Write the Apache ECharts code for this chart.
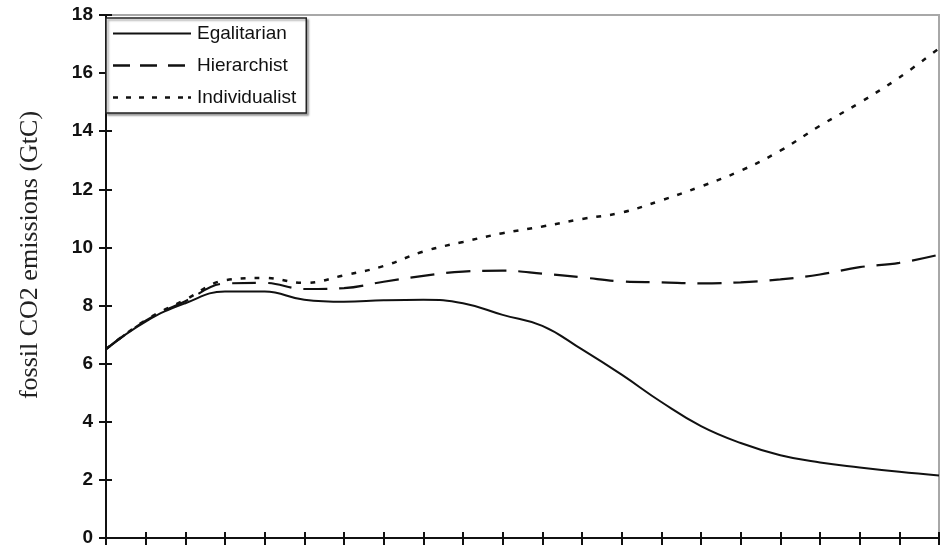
<!DOCTYPE html>
<html>
<head>
<meta charset="utf-8">
<script src="https://cdn.jsdelivr.net/npm/echarts@6/dist/echarts.min.js"></script>
<style>
  html, body { margin: 0; padding: 0; background: #fff; }
  #chart { width: 948px; height: 548px; }
</style>
</head>
<body>
<div id="chart"></div>
<script>
// Fossil CO2 emission paths under three cultural perspectives, 1995-2100
const years = [1995, 2000, 2005, 2010, 2015, 2020, 2025, 2030, 2035, 2040, 2045,
               2050, 2055, 2060, 2065, 2070, 2075, 2080, 2085, 2090, 2095, 2100];
const egalitarian = [6.5, 7.45, 8.08, 8.48, 8.48, 8.2, 8.13, 8.18, 8.2, 8.08, 7.68,
                     7.3, 6.49, 5.62, 4.68, 3.85, 3.27, 2.85, 2.6, 2.43, 2.28, 2.15];
const hierarchist = [6.5, 7.48, 8.15, 8.76, 8.78, 8.57, 8.6, 8.82, 9.02, 9.17, 9.2,
                     9.1, 8.97, 8.83, 8.8, 8.76, 8.8, 8.9, 9.07, 9.32, 9.47, 9.75];
const individualist = [6.5, 7.5, 8.2, 8.87, 8.95, 8.78, 9.04, 9.36, 9.86, 10.19, 10.49,
                       10.72, 10.98, 11.2, 11.62, 12.1, 12.64, 13.33, 14.19, 14.98, 15.85, 16.85];
const yTicks = [0, 2, 4, 6, 8, 10, 12, 14, 16, 18];

const seriesNames = ['Egalitarian', 'Hierarchist', 'Individualist'];
const pair = (vals) => years.map((y, i) => [y, vals[i]]);

// legend keys drawn as flat paths (solid, dashed, dotted)
const keySolid = 'path://M0,0h78v2.2h-78z';
const keyDashed = 'path://M0,0h17v2.6h-17z M27,0h17v2.6h-17z M55,0h17v2.6h-17z M77.9,0h0.1v0.1h-0.1z';
const keyDotted = 'path://M0,0h5v2.6h-5z M13,0h5v2.6h-5z M26,0h5v2.6h-5z M39,0h5v2.6h-5z ' +
                  'M52,0h5v2.6h-5z M65,0h5v2.6h-5z M75,0h3v2.6h-3z';

const chart = echarts.init(document.getElementById('chart'), null, { renderer: 'canvas' });

const axisBlack = { lineStyle: { color: '#111', width: 2 } };

chart.setOption({
  animation: false,
  backgroundColor: '#fff',
  grid: {
    left: 106, right: 9, top: 15, bottom: 10,
    show: true, borderColor: '#a8a8a8', borderWidth: 2
  },
  legend: {
    orient: 'vertical',
    left: 106, top: 18,
    itemWidth: 78, itemHeight: 18, itemGap: 13,
    padding: [6, 10, 6, 7],
    backgroundColor: '#fff',
    borderColor: '#222', borderWidth: 1.5,
    shadowColor: 'rgba(0,0,0,0.35)', shadowBlur: 2, shadowOffsetX: 2, shadowOffsetY: 2,
    textStyle: { fontFamily: 'Liberation Sans, Arial, sans-serif', fontSize: 19, color: '#111', padding: [0, 0, 0, 1] },
    data: [
      { name: seriesNames[0], icon: keySolid, itemStyle: { color: '#111' } },
      { name: seriesNames[1], icon: keyDashed, itemStyle: { color: '#111' } },
      { name: seriesNames[2], icon: keyDotted, itemStyle: { color: '#111' } }
    ]
  },
  xAxis: [
    {
      type: 'value', min: 1995, max: 2100, interval: 5,
      axisLine: axisBlack,
      axisTick: { show: true, length: 7, lineStyle: { color: '#111', width: 2 } },
      axisLabel: { show: false },
      splitLine: { show: false }
    },
    {
      type: 'value', min: 1995, max: 2100, interval: 5, position: 'bottom',
      axisLine: axisBlack,
      axisTick: { show: true, inside: true, length: 6, lineStyle: { color: '#111', width: 2 } },
      axisLabel: { show: false },
      splitLine: { show: false }
    }
  ],
  yAxis: [
    {
      type: 'value', min: yTicks[0], max: yTicks[yTicks.length - 1], interval: 2,
      axisLine: { show: true, lineStyle: { color: '#111', width: 2 } },
      axisTick: { show: true, length: 7, lineStyle: { color: '#111', width: 2 } },
      axisLabel: {
        margin: 13, fontFamily: 'Liberation Sans, Arial, sans-serif', fontWeight: 'bold',
        fontSize: 19, color: '#111'
      },
      splitLine: { show: false }
    },
    {
      type: 'value', min: yTicks[0], max: yTicks[yTicks.length - 1], interval: 2, position: 'left',
      axisLine: { show: true, lineStyle: { color: '#111', width: 2 } },
      axisTick: { show: true, inside: true, length: 6, lineStyle: { color: '#111', width: 2 } },
      axisLabel: { show: false },
      splitLine: { show: false }
    }
  ],
  graphic: [
    {
      type: 'text',
      x: 30, y: 255,
      rotation: Math.PI / 2,
      style: {
        text: 'fossil CO2 emissions (GtC)',
        font: '26px "Liberation Serif", "Times New Roman", serif',
        fill: '#222',
        align: 'center',
        verticalAlign: 'middle'
      }
    }
  ],
  series: [
    {
      name: seriesNames[0], type: 'line', data: pair(egalitarian),
      smooth: 0.45, symbol: 'none', z: 4,
      itemStyle: { color: '#111' },
      lineStyle: { color: '#111', width: 2, type: 'solid' }
    },
    {
      name: seriesNames[1], type: 'line', data: pair(hierarchist),
      smooth: 0.4, symbol: 'none', z: 3,
      itemStyle: { color: '#111' },
      lineStyle: { color: '#111', width: 2.2, type: [24, 12] }
    },
    {
      name: seriesNames[2], type: 'line', data: pair(individualist),
      smooth: 0.4, symbol: 'none', z: 3,
      itemStyle: { color: '#111' },
      lineStyle: { color: '#111', width: 2.5, type: [5, 9] }
    }
  ]
});
</script>
</body>
</html>
